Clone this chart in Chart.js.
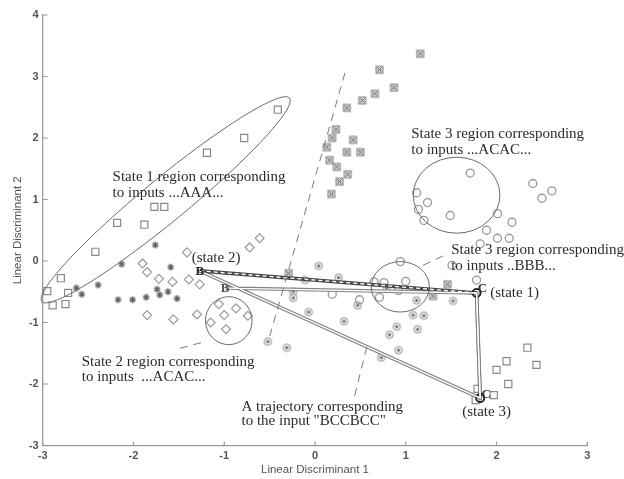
<!DOCTYPE html>
<html>
<head>
<meta charset="utf-8">
<title>Linear discriminant plot</title>
<script src="https://cdn.jsdelivr.net/npm/chart.js@4.4.0/dist/chart.umd.min.js"></script>
<style>
  html, body { margin: 0; padding: 0; background: #fff; }
  canvas { display: block; }
</style>
</head>
<body>
<canvas id="lda" width="624" height="479"></canvas>
<script>
// points, [LD1, LD2]
var openSquares = [[-0.41,2.46],[-0.78,2.00],[-1.19,1.76],[-1.77,0.88],[-1.66,0.88],[-2.18,0.62],[-1.88,0.59],
  [-2.42,0.15],[-2.80,-0.28],[-2.95,-0.49],[-2.72,-0.52],[-2.89,-0.72],[-2.75,-0.70],
  [2.34,-1.41],[2.11,-1.63],[2.44,-1.69],[2.00,-1.77],[2.13,-2.00],[1.97,-2.18],[1.79,-2.08],[1.77,-2.26]];
var boxedCrosses = [[1.16,3.37],[0.71,3.11],[0.87,2.82],[0.66,2.72],[0.52,2.61],[0.35,2.49],[0.23,2.14],[0.19,2.00],
  [0.42,1.97],[0.13,1.85],[0.35,1.77],[0.50,1.77],[0.16,1.64],[0.24,1.53],[0.36,1.41],[0.27,1.29],[0.18,1.09],
  [1.46,-0.38],[1.30,-0.57],[-0.29,-0.20]];
var diamonds = [[-0.61,0.37],[-0.72,0.22],[-1.41,0.14],[-1.90,-0.04],[-1.85,-0.18],[-1.72,-0.29],[-1.57,-0.34],
  [-1.39,-0.30],[-1.27,-0.38],[-1.85,-0.88],[-1.56,-0.95],[-1.30,-0.87],[-1.06,-0.70],[-0.87,-0.77],[-1.00,-0.88],
  [-0.74,-0.89],[-1.15,-1.00],[-0.98,-1.11]];
var stars = [[-1.76,0.26],[-2.13,-0.05],[-1.59,-0.10],[-2.39,-0.39],[-2.63,-0.44],[-2.57,-0.54],[-1.74,-0.46],
  [-1.71,-0.55],[-1.62,-0.50],[-1.52,-0.61],[-2.17,-0.63],[-2.01,-0.63],[-1.86,-0.59]];
var circledDots = [[0.04,-0.08],[0.26,-0.27],[-0.11,-0.31],[-0.24,-0.50],[-0.24,-0.60],[-0.07,-0.83],[0.32,-0.98],
  [-0.52,-1.31],[-0.31,-1.41],[0.79,-0.44],[1.12,-0.64],[1.52,-0.65],[1.08,-0.88],[1.20,-0.89],[0.90,-1.07],
  [1.13,-1.11],[0.82,-1.20],[0.92,-1.45],[0.73,-1.57],[0.47,-0.72]];
var openCircles = [[1.71,1.43],[1.12,1.11],[1.24,0.95],[1.14,0.84],[1.20,0.66],[1.49,0.74],[2.40,1.26],[2.50,1.02],
  [2.61,1.14],[2.01,0.77],[2.17,0.63],[1.89,0.50],[2.01,0.37],[2.14,0.37],[1.82,0.28],[0.94,-0.01],[0.65,-0.34],
  [0.76,-0.35],[1.00,-0.33],[0.92,-0.48],[0.71,-0.59],[0.19,-0.54],[0.49,-0.63],[1.78,-0.31],[1.51,-0.07]];

// trajectory for input BCCBCC
var trajX = [-0.99, 1.78, 1.82, -1.27, 1.78, 1.82];
var trajY = [-0.44, -0.52, -2.23, -0.16, -0.52, -2.23];
var trajInput = ['B', 'C', 'C', 'B', 'C', 'C'];

// region outlines: circles [cx, cy, rx, ry], tilted [x1, y1, x2, y2, minor/major]
var regionRounds = [[1.56, 1.07, 0.477, 0.618], [0.94, -0.42, 0.32, 0.41], [-0.95, -0.97, 0.257, 0.39]];
var regionTilted = [[-3.01, -0.66, -0.28, 2.65, 0.135]];
// dashed lines [x1, y1, x2, y2]
var dashLines = [[0.33, 3.06, -0.52, -1.33], [-1.49, -1.42, -1.21, -1.31], [1.19, -0.07, 1.45, 0.11], [0.57, -1.40, 0.43, -2.23]];

var noteLines = ['State 1 region corresponding', 'to inputs ...AAA...',
  'State 3 region corresponding', 'to inputs ...ACAC...',
  'State 3 region corresponding', 'to inputs ..BBB...',
  'State 2 region corresponding', 'to inputs  ...ACAC...',
  'A trajectory corresponding', 'to the input "BCCBCC"'];
var noteX = [-2.23, -2.23, 1.06, 1.06, 1.50, 1.50, -2.57, -2.57, -0.81, -0.81];
var noteY = [1.37, 1.11, 2.06, 1.80, 0.18, -0.08, -1.64, -1.88, -2.37, -2.61];
var stateNames = ['(state 2)', '(state 1)', '(state 3)'];
var stateX = [-1.09, 1.93, 1.89];
var stateY = [0.04, -0.52, -2.46];
var stateAlign = ['center', 'left', 'center'];

function pts(list) {
  return list.map(function(p) { return {x: p[0], y: p[1]}; });
}

function markerCanvas(size, draw) {
  var c = document.createElement('canvas');
  c.width = size; c.height = size;
  draw(c.getContext('2d'), size / 2);
  return c;
}

var boxedX = markerCanvas(11, function(g, m) {
  g.fillStyle = '#d4d4d4';
  g.fillRect(m - 3.5, m - 3.5, 7, 7);
  g.strokeStyle = '#808080';
  g.lineWidth = 1;
  g.strokeRect(m - 3.5, m - 3.5, 7, 7);
  g.beginPath();
  g.moveTo(m - 2, m - 2); g.lineTo(m + 2, m + 2);
  g.moveTo(m + 2, m - 2); g.lineTo(m - 2, m + 2);
  g.strokeStyle = '#555';
  g.stroke();
});

var circDot = markerCanvas(11, function(g, m) {
  g.beginPath();
  g.arc(m, m, 3.8, 0, Math.PI * 2);
  g.fillStyle = '#e4e4e4';
  g.fill();
  g.strokeStyle = '#9a9a9a';
  g.lineWidth = 1;
  g.stroke();
  g.beginPath();
  g.arc(m, m, 1.3, 0, Math.PI * 2);
  g.fillStyle = '#555';
  g.fill();
});

var starBlob = markerCanvas(11, function(g, m) {
  g.beginPath();
  g.arc(m, m, 3.4, 0, Math.PI * 2);
  g.fillStyle = '#c8c8c8';
  g.fill();
  g.strokeStyle = '#555';
  g.lineWidth = 1.4;
  g.beginPath();
  for (var k = 0; k < 3; k++) {
    var a = Math.PI / 2 + k * Math.PI / 3;
    g.moveTo(m + Math.cos(a) * 3, m + Math.sin(a) * 3);
    g.lineTo(m - Math.cos(a) * 3, m - Math.sin(a) * 3);
  }
  g.stroke();
});

var trajData = trajX.map(function(x, i) { return {x: x, y: trajY[i]}; });

function onScale(chart, x, y) {
  return [chart.scales.x.getPixelForValue(x), chart.scales.y.getPixelForValue(y)];
}

var inwardTicks = {
  id: 'inwardTicks',
  afterDraw: function(chart) {
    var ctx = chart.ctx, xs = chart.scales.x, ys = chart.scales.y, a = chart.chartArea;
    ctx.save();
    ctx.strokeStyle = '#9a9a9a';
    ctx.lineWidth = 1.2;
    ctx.beginPath();
    xs.ticks.forEach(function(t) {
      var p = xs.getPixelForValue(t.value);
      ctx.moveTo(p, a.bottom); ctx.lineTo(p, a.bottom - 4);
    });
    ys.ticks.forEach(function(t) {
      var p = ys.getPixelForValue(t.value);
      ctx.moveTo(a.left, p); ctx.lineTo(a.left + 5, p);
    });
    ctx.stroke();
    ctx.restore();
  }
};

var regions = {
  id: 'regions',
  afterDatasetsDraw: function(chart) {
    var ctx = chart.ctx;
    ctx.save();
    ctx.strokeStyle = '#6a6a6a';
    ctx.lineWidth = 1;
    regionRounds.forEach(function(r) {
      var c = onScale(chart, r[0], r[1]);
      var e = onScale(chart, r[0] + r[2], r[1] + r[3]);
      ctx.beginPath();
      ctx.ellipse(c[0], c[1], Math.abs(e[0] - c[0]), Math.abs(e[1] - c[1]), 0, 0, Math.PI * 2);
      ctx.stroke();
    });
    regionTilted.forEach(function(r) {
      var p1 = onScale(chart, r[0], r[1]);
      var p2 = onScale(chart, r[2], r[3]);
      var dx = p2[0] - p1[0], dy = p2[1] - p1[1];
      var major = Math.sqrt(dx * dx + dy * dy) / 2;
      ctx.beginPath();
      ctx.ellipse((p1[0] + p2[0]) / 2, (p1[1] + p2[1]) / 2, major, major * r[4], Math.atan2(dy, dx), 0, Math.PI * 2);
      ctx.stroke();
    });
    ctx.strokeStyle = '#7a7a7a';
    ctx.setLineDash([8, 6]);
    dashLines.forEach(function(l) {
      var a = onScale(chart, l[0], l[1]);
      var b = onScale(chart, l[2], l[3]);
      ctx.beginPath();
      ctx.moveTo(a[0], a[1]);
      ctx.lineTo(b[0], b[1]);
      ctx.stroke();
    });
    ctx.restore();
  }
};

var notes = {
  id: 'notes',
  afterDraw: function(chart) {
    var ctx = chart.ctx;
    ctx.save();
    ctx.fillStyle = '#2b2b2b';
    ctx.textBaseline = 'middle';
    ctx.font = '15px "Liberation Serif", "Times New Roman", serif';
    ctx.textAlign = 'left';
    noteLines.forEach(function(s, i) {
      var p = onScale(chart, noteX[i], noteY[i]);
      ctx.fillText(s, p[0], p[1]);
    });
    stateNames.forEach(function(s, i) {
      var p = onScale(chart, stateX[i], stateY[i]);
      ctx.textAlign = stateAlign[i];
      ctx.fillText(s, p[0], p[1]);
    });
    // input letters at trajectory points
    var meta = chart.getDatasetMeta(1);
    var seen = {};
    meta.data.forEach(function(el, i) {
      var key = Math.round(el.x) + ',' + Math.round(el.y);
      if (seen[key]) return;
      seen[key] = true;
      ctx.textAlign = 'center';
      ctx.font = 'bold 13px "Liberation Serif", serif';
      if (trajInput[i] === 'B') {
        ctx.fillStyle = i === 3 ? '#222' : '#555';
        ctx.fillText('B', el.x, el.y + 1);
      } else {
        ctx.fillStyle = '#333';
        ctx.fillText('C', el.x + 6, el.y - 4);
      }
    });
    ctx.restore();
  }
};

var axisFont = {family: '"Liberation Sans", Arial, sans-serif', size: 11, weight: 'bold'};

new Chart(document.getElementById('lda'), {
  type: 'scatter',
  data: {
    datasets: [
      {
        // inner gap of the double trajectory line
        type: 'line', data: trajData, showLine: true, fill: false,
        borderColor: '#fff', borderWidth: 1.3, pointRadius: 0,
        segment: { borderDash: function(ctx) { return ctx.p0DataIndex === 3 ? [4, 3] : undefined; } }
      },
      {
        type: 'line', data: trajData, showLine: true, fill: false,
        borderColor: '#808080', borderWidth: 3.6,
        segment: { borderColor: function(ctx) { return ctx.p0DataIndex === 3 ? '#4a4a4a' : undefined; } },
        pointStyle: 'circle',
        pointRadius: trajInput.map(function(c) { return c === 'C' ? 4 : 0; }),
        pointBorderColor: '#222', pointBorderWidth: 1.6, pointBackgroundColor: 'rgba(0,0,0,0)'
      },
      { data: pts(openSquares), pointStyle: 'rect', pointRadius: 5, borderColor: '#8a8a8a', borderWidth: 1.2, backgroundColor: 'rgba(0,0,0,0)' },
      { data: pts(diamonds), pointStyle: 'rectRot', pointRadius: 4.5, borderColor: '#9a9a9a', borderWidth: 1.2, backgroundColor: 'rgba(0,0,0,0)' },
      { data: pts(openCircles), pointStyle: 'circle', pointRadius: 4, borderColor: '#999', borderWidth: 1.3, backgroundColor: 'rgba(0,0,0,0)' },
      { data: pts(boxedCrosses), pointStyle: boxedX },
      { data: pts(circledDots), pointStyle: circDot },
      { data: pts(stars), pointStyle: starBlob }
    ]
  },
  options: {
    responsive: false,
    animation: false,
    events: [],
    layout: { padding: { top: 15, right: 36.7, bottom: 0, left: 0 } },
    plugins: { legend: { display: false }, tooltip: { enabled: false } },
    scales: {
      x: {
        type: 'linear', min: -3, max: 3,
        ticks: { stepSize: 1, padding: 4, color: '#555', font: axisFont },
        grid: { display: false, drawTicks: false },
        border: { display: true, color: '#9a9a9a', width: 1.3 },
        title: { display: true, text: 'Linear Discriminant 1', color: '#555',
          font: { family: '"Liberation Sans", Arial, sans-serif', size: 11.5 }, padding: { top: 0, bottom: 2 } },
        afterFit: function(s) { s.height = 33.5; }
      },
      y: {
        type: 'linear', min: -3, max: 4,
        ticks: { stepSize: 1, padding: 4, color: '#555', font: axisFont },
        grid: { display: false, drawTicks: false },
        border: { display: true, color: '#9a9a9a', width: 1.3 },
        title: { display: true, text: 'Linear Discriminant 2', color: '#555',
          font: { family: '"Liberation Sans", Arial, sans-serif', size: 11.5 }, padding: { top: 11, bottom: 0 } },
        afterFit: function(s) { s.width = 42.7; }
      }
    }
  },
  plugins: [inwardTicks, regions, notes]
});
</script>
</body>
</html>
